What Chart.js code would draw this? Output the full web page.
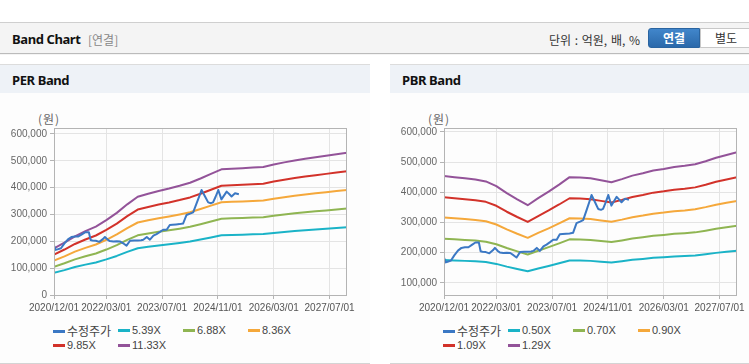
<!DOCTYPE html>
<html>
<head>
<meta charset="utf-8">
<script src="https://cdn.jsdelivr.net/npm/chart.js@4.4.0/dist/chart.umd.min.js"></script>
<style>
    html, body { margin: 0; padding: 0; background: #fff; overflow: hidden; }
    body { width: 749px; height: 364px; position: relative; font-family: "Liberation Sans", Arial, sans-serif; }
    .hdr { position: absolute; left: 0; top: 22px; width: 749px; height: 30px; background: #f4f4f4;
           border-top: 1px solid #cfcfcf; box-shadow: 0 1px 1px #bbb; }
    .hdr .ttl { position: absolute; left: 12px; top: 7px; font: bold 13px "Noto Sans", sans-serif; color: #111; letter-spacing: -0.4px; }
    .hdr .sub { position: absolute; left: 88px; top: 8px; font: 12px "Noto Sans CJK KR", sans-serif; color: #888; }
    .hdr .unit { position: absolute; left: 549px; top: 8px; font: 12px "Noto Sans CJK KR", sans-serif; color: #333; word-spacing: 1px; }
    .btn { position: absolute; top: 5px; height: 20px; line-height: 19px; text-align: center; font: 12px "Noto Sans CJK KR", sans-serif; box-sizing: border-box; }
    .btn.on { left: 648px; width: 52px; background: linear-gradient(#4186cb, #2b69aa); color: #fff; font-weight: bold; border-radius: 3px 0 0 3px; border: 1px solid #2a64a0; }
    .btn.off { left: 700px; width: 52px; background: #fff; color: #333; border: 1px solid #c8c8c8; }
    .panel { position: absolute; top: 64px; height: 298px; border-top: 1px solid #dcdcdc; border-bottom: 1px solid #d4d4d4; background: #fdfdfd; }
    .panel .bar { height: 28px; background: #eef2f7; }
    .panel .bar span { position: absolute; left: 12px; top: 6px; font: bold 13px "Noto Sans", sans-serif; color: #111; letter-spacing: -0.4px; }
    .panel .unitlbl { position: absolute; left: 38px; top: 45px; font: 12px "Noto Sans CJK KR", sans-serif; color: #666; letter-spacing: 1px; }
    .panel canvas { position: absolute; left: 0; top: 35px; }
    .legend { position: absolute; left: 53px; top: 258px; width: 300px; }
    .legend .it { float: left; width: 65px; height: 15px; line-height: 15px; font-size: 11px; color: #444; white-space: nowrap; }
    .legend .it i { display: inline-block; width: 12px; height: 3px; margin-right: 2px; vertical-align: middle; position: relative; top: -1px; }
    .legend .it.kr { font: 12px "Noto Sans CJK KR", sans-serif; line-height: 15px; }
</style>
</head>
<body>
<div class="hdr">
    <span class="ttl">Band Chart</span>
    <span class="sub">[연결]</span>
    <span class="unit">단위 : 억원, 배, %</span>
    <div class="btn on">연결</div>
    <div class="btn off">별도</div>
</div>

<div class="panel" style="left:0;width:370px;">
    <div class="bar"><span>PER Band</span></div>
    <div class="unitlbl">(원)</div>
    <canvas id="perChart" width="370" height="215"></canvas>
    <div class="legend" id="perLegend"></div>
</div>

<div class="panel" style="left:390px;width:359px;">
    <div class="bar"><span>PBR Band</span></div>
    <div class="unitlbl">(원)</div>
    <canvas id="pbrChart" width="359" height="215"></canvas>
    <div class="legend" id="pbrLegend"></div>
</div>

<script>
// months counted from 2020/12/01
const xTickMonths = [0, 15, 31, 47, 63, 79];
const xTickLabels = ['2020/12/01', '2022/03/01', '2023/07/01', '2024/11/01', '2026/03/01', '2027/07/01'];

const bandMonths = [0, 3, 6, 9, 12, 15, 18, 21, 24, 27, 30, 33, 36, 39, 42, 45, 48, 51, 54, 57, 60, 63, 66, 69, 72, 75, 78, 81, 84];

// EPS / BPS (원)
const perEps = [15300, 17200, 19300, 21000, 22500, 24600, 27000, 29800, 32300, 33300, 34200, 35000, 35900, 36900,
                38300, 39800, 41300, 41500, 41700, 41900, 42100, 42900, 43600, 44200, 44800, 45300, 45800, 46300, 46800];
const pbrBps = [352000, 349000, 346000, 343000, 338000, 326000, 308000, 292000, 277000, 295000, 312000, 330000, 349000, 348000,
                346000, 341000, 336000, 344000, 353000, 359000, 366000, 370000, 375000, 378000, 382000, 390000, 399000, 406000, 413000];

const perMultiples = [5.39, 6.88, 8.36, 9.85, 11.33];
const pbrMultiples = [0.50, 0.70, 0.90, 1.09, 1.29];

// 수정주가
const priceMonths = [0, 0.5, 1, 2, 3, 4, 5, 6, 7, 8, 9, 10, 10.5, 11, 12, 13, 14, 14.6, 15.5, 16, 17, 18, 19, 20, 20.8, 21.8,
                     23, 24, 25, 25.6, 26.6, 27.5, 28.5, 29.4, 30.5, 31.3, 32.3, 33.2, 34, 35, 36, 37, 38, 39, 39.9, 40.9,
                     41.8, 42.3, 43.3, 44.2, 45, 45.6, 46.3, 47.1, 48, 49.5, 50.3, 50.9, 51.9, 53];
const priceValues = [184000, 168000, 170000, 174000, 192000, 207000, 216000, 218000, 218000, 226000, 234000, 234000, 205000, 203000,
                     202000, 198000, 208000, 216000, 205000, 201000, 199000, 200000, 199000, 191000, 184000, 202000,
                     203000, 203000, 204000, 206000, 216000, 206000, 221000, 227000, 236000, 243000, 243000, 261000, 262000,
                     263000, 264000, 266000, 298000, 303000, 308000, 342000, 373000, 391000, 367000, 345000, 342000, 345000,
                     365000, 391000, 356000, 385000, 375000, 367000, 379000, 375000];

const priceColor = '#3b78c4';
const bandColors = ['#1ab3c7', '#8fb552', '#f5a83b', '#d2322a', '#935399'];

const plotBorder = {
    id: 'plotBorder',
    afterDraw(chart) {
        const a = chart.chartArea, ctx = chart.ctx;
        ctx.save();
        ctx.strokeStyle = '#b4b4b4';
        ctx.lineWidth = 1;
        ctx.strokeRect(Math.round(a.left) + 0.5, Math.round(a.top) + 0.5,
                       Math.round(a.right - a.left) - 1, Math.round(a.bottom - a.top));
        ctx.restore();
    }
};

function buildDatasets(base, multiples) {
    const sets = [{
        label: '수정주가',
        data: priceMonths.map((m, i) => ({ x: m, y: priceValues[i] })),
        borderColor: priceColor,
    }];
    multiples.forEach((k, j) => {
        sets.push({
            label: k.toFixed(2) + 'X',
            data: bandMonths.map((m, i) => ({ x: m, y: Math.round(base[i] * k) })),
            borderColor: bandColors[j],
        });
    });
    return sets;
}

const tickFont = { family: '"Liberation Sans", Arial', size: 10 };

function makeChart(id, legendId, datasets, yMin, yMax, rightPad) {
    new Chart(document.getElementById(id), {
        type: 'line',
        data: { datasets },
        plugins: [plotBorder],
        options: {
            responsive: false,
            animation: false,
            layout: { padding: { left: 0, right: rightPad, top: 28, bottom: 0 } },
            elements: {
                point: { radius: 0 },
                line: { borderWidth: 2, tension: 0, borderJoinStyle: 'round' }
            },
            plugins: { legend: { display: false }, tooltip: { enabled: false } },
            scales: {
                x: {
                    type: 'linear', min: 0, max: 84,
                    afterBuildTicks: s => { s.ticks = xTickMonths.map(v => ({ value: v })); },
                    afterFit: s => { s.height = 20; },
                    ticks: {
                        autoSkip: false, maxRotation: 0, padding: 3,
                        color: '#555', font: tickFont,
                        callback: v => xTickLabels[xTickMonths.indexOf(v)]
                    },
                    grid: { color: '#e4e4e4', tickColor: '#b4b4b4', tickLength: 4 },
                    border: { display: false }
                },
                y: {
                    min: yMin, max: yMax,
                    afterBuildTicks: s => {
                        const t = [];
                        for (let v = 0; v <= 600000; v += 100000) if (v >= yMin) t.push({ value: v });
                        s.ticks = t;
                    },
                    afterFit: s => { s.width = 54; },
                    ticks: {
                        padding: 3, color: '#666', font: tickFont,
                        callback: v => v.toLocaleString('en-US')
                    },
                    grid: { color: '#e4e4e4', tickColor: '#b4b4b4', tickLength: 4 },
                    border: { display: false }
                }
            }
        }
    });

    const leg = document.getElementById(legendId);
    datasets.forEach((d, i) => {
        const el = document.createElement('div');
        el.className = 'it' + (i === 0 ? ' kr' : '');
        el.innerHTML = '<i style="background:' + d.borderColor + '"></i>' + d.label;
        leg.appendChild(el);
    });
}

makeChart('perChart', 'perLegend', buildDatasets(perEps, perMultiples), 0, 622000, 23);
makeChart('pbrChart', 'pbrLegend', buildDatasets(pbrBps, pbrMultiples), 60000, 613000, 12);
</script>
</body>
</html>
